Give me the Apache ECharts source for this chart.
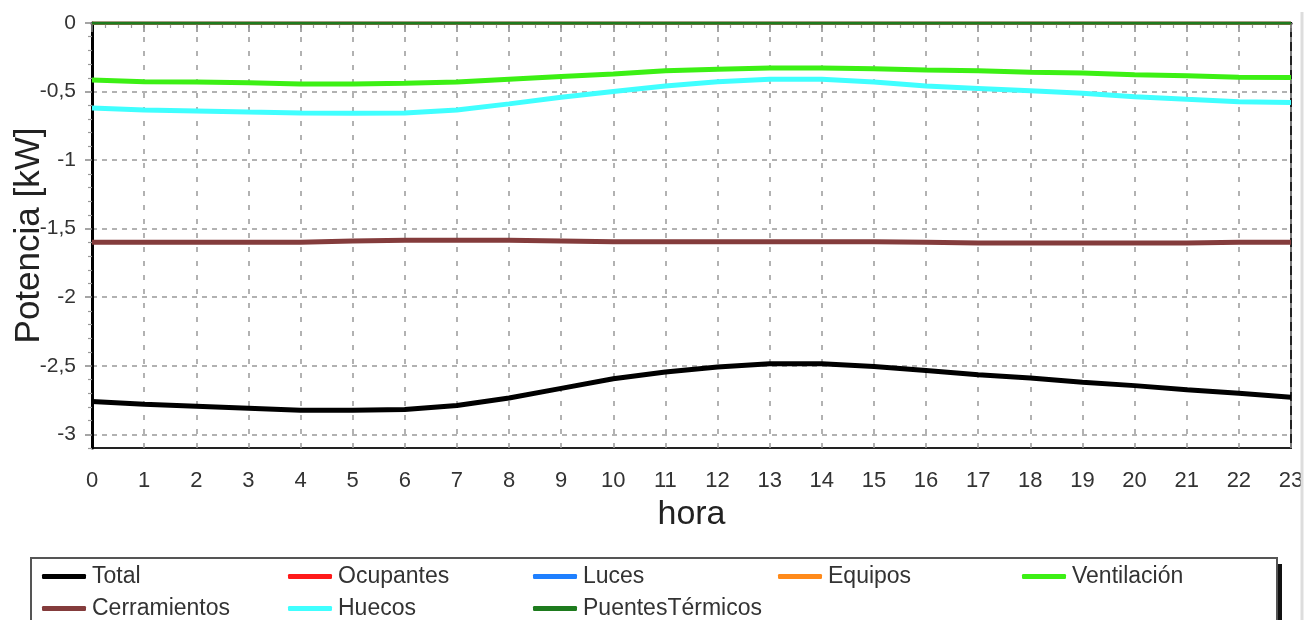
<!DOCTYPE html>
<html>
<head>
<meta charset="utf-8">
<script src="https://cdn.jsdelivr.net/npm/echarts@6/dist/echarts.min.js"></script>
<style>
html,body{margin:0;padding:0;background:#fff;}
#chart{width:1316px;height:620px;}
</style>
</head>
<body>
<div id="chart"></div>
<script>
// ---- Data ----
var hours = [0,1,2,3,4,5,6,7,8,9,10,11,12,13,14,15,16,17,18,19,20,21,22,23];
var seriesNames = ['Total','Ocupantes','Luces','Equipos','Ventilación','Cerramientos','Huecos','PuentesTérmicos'];
var total = [-2.76,-2.78,-2.795,-2.81,-2.825,-2.825,-2.82,-2.79,-2.735,-2.665,-2.595,-2.545,-2.51,-2.485,-2.485,-2.505,-2.535,-2.565,-2.59,-2.62,-2.645,-2.675,-2.70,-2.73];
var ocupantes = [0,0,0,0,0,0,0,0,0,0,0,0,0,0,0,0,0,0,0,0,0,0,0,0];
var luces = [0,0,0,0,0,0,0,0,0,0,0,0,0,0,0,0,0,0,0,0,0,0,0,0];
var equipos = [0,0,0,0,0,0,0,0,0,0,0,0,0,0,0,0,0,0,0,0,0,0,0,0];
var ventilacion = [-0.415,-0.428,-0.43,-0.435,-0.445,-0.445,-0.44,-0.43,-0.41,-0.39,-0.372,-0.348,-0.338,-0.328,-0.328,-0.333,-0.343,-0.348,-0.36,-0.365,-0.378,-0.385,-0.395,-0.397];
var cerramientos = [-1.60,-1.60,-1.60,-1.60,-1.60,-1.59,-1.585,-1.585,-1.585,-1.59,-1.595,-1.595,-1.595,-1.595,-1.595,-1.595,-1.60,-1.605,-1.605,-1.605,-1.605,-1.605,-1.60,-1.60];
var huecos = [-0.62,-0.635,-0.642,-0.65,-0.656,-0.658,-0.656,-0.635,-0.59,-0.542,-0.50,-0.46,-0.428,-0.41,-0.41,-0.43,-0.46,-0.477,-0.494,-0.513,-0.538,-0.557,-0.574,-0.58];
var puentes = [0,0,0,0,0,0,0,0,0,0,0,0,0,0,0,0,0,0,0,0,0,0,0,0];
var yMin = -3.1, yMax = 0;
var yTicks = [-3, -2.5, -2, -1.5, -1, -0.5, 0];
var yMinorTicks = [-3.1,-2.9,-2.8,-2.7,-2.6,-2.4,-2.3,-2.2,-2.1,-1.9,-1.8,-1.7,-1.6,-1.4,-1.3,-1.2,-1.1,-0.9,-0.8,-0.7,-0.6,-0.4,-0.3,-0.2,-0.1];

var colors = ['#000000','#ff1a1a','#1f80ff','#ff8a1a','#3cf014','#843c3c','#40ffff','#1e7b1e'];
var widths = [5, 3, 3, 3, 5, 5, 5, 3];
var values = [total, ocupantes, luces, equipos, ventilacion, cerramientos, huecos, puentes];

var FONT = "'Liberation Sans', Arial, sans-serif";

function pairs(arr){ return hours.map(function(h,i){ return [h, arr[i]]; }); }

var series = seriesNames.map(function(name, i){
  return {
    name: name,
    type: 'line',
    data: pairs(values[i]),
    showSymbol: false,
    symbol: 'none',
    smooth: false,
    lineStyle: { color: colors[i], width: widths[i] },
    itemStyle: { color: colors[i] },
    z: 3 + i
  };
});

// legend layout: 5 columns, 2 rows
var colX = [42, 288, 533, 778, 1022];
var rowY = [565, 597];
var legends = seriesNames.map(function(name, i){
  return {
    data: [name],
    left: colX[i % 5],
    top: rowY[Math.floor(i / 5)],
    orient: 'horizontal',
    padding: 0,
    icon: 'roundRect',
    itemWidth: 44,
    itemHeight: 5,
    itemGap: 0,
    textStyle: { fontSize: 23, color: '#333', fontFamily: FONT, padding: [0,0,0,1] },
    z: 10
  };
});

function fmt(v){
  var r = Math.round(v * 10) / 10;
  return String(r).replace('.', ',');
}

var chart = echarts.init(document.getElementById('chart'), null, {renderer: 'canvas'});
chart.setOption({
  animation: false,
  backgroundColor: '#ffffff',
  color: colors,
  textStyle: { fontFamily: FONT },
  grid: {
    left: 92, right: 25, top: 23, bottom: 172,
    outerBoundsMode: 'none',
    containLabel: false,
    show: true, borderColor: '#222', borderWidth: 2, backgroundColor: 'transparent'
  },
  legend: legends,
  xAxis: {
    type: 'value',
    min: 0, max: 23, interval: 1,
    name: 'hora',
    nameLocation: 'middle',
    nameGap: 50,
    nameMoveOverlap: false,
    nameTextStyle: { fontSize: 34, color: '#222', fontFamily: FONT },
    axisLine: { show: true, lineStyle: { color: '#000', width: 3 } },
    axisTick: { show: true, length: 9, lineStyle: { color: '#888', width: 1.5 } },
    minorTick: { show: true, splitNumber: 4, length: 5, lineStyle: { color: '#999', width: 1.2 } },
    splitLine: { show: true, lineStyle: { color: '#999', width: 1.5, type: [5, 9] } },
    axisLabel: { fontSize: 22, color: '#333', margin: 22, fontFamily: FONT }
  },
  yAxis: [
    {
      type: 'value',
      min: yMin, max: yMax,
      name: 'Potencia [kW]',
      nameLocation: 'middle',
      nameGap: 45,
      nameMoveOverlap: false,
      nameTextStyle: { fontSize: 35, color: '#222', fontFamily: FONT },
      axisLine: { show: true, lineStyle: { color: '#000', width: 3 } },
      axisTick: { show: true, length: 7, customValues: yTicks, lineStyle: { color: '#888', width: 1.5 } },
      splitLine: { show: true, lineStyle: { color: '#999', width: 1.5, type: [5, 5] } },
      axisLabel: {
        fontSize: 21, color: '#333', margin: 16, fontFamily: FONT,
        customValues: yTicks,
        formatter: fmt
      }
    },
    {
      type: 'value',
      min: yMin, max: yMax,
      position: 'left',
      offset: 0,
      axisLine: { show: false },
      axisTick: { show: true, length: 4, customValues: yMinorTicks, lineStyle: { color: '#999', width: 1.2 } },
      splitLine: { show: false },
      axisLabel: { show: false, customValues: yMinorTicks }
    }
  ],
  graphic: [
    {
      type: 'rect', z: 1,
      shape: { x: 36, y: 564, width: 1246, height: 90 },
      style: { fill: '#111' }
    },
    {
      type: 'rect', z: 1,
      shape: { x: 31, y: 558, width: 1246, height: 90 },
      style: { fill: '#fff', stroke: '#555', lineWidth: 2 }
    },
    {
      type: 'line', z: 1,
      shape: { x1: 1302, y1: 12, x2: 1302, y2: 620 },
      style: { stroke: '#dddddd', lineWidth: 3 }
    }
  ],
  series: series
});
</script>
</body>
</html>
